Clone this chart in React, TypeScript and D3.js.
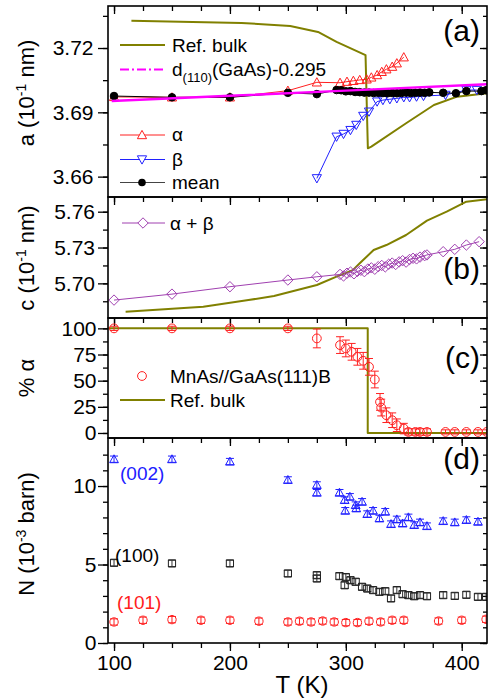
import { useRef, useEffect } from 'react'
import * as d3 from 'd3'

// ---- panel (a): lattice parameter a
const bulkAT = [115, 210, 252, 276, 292, 317, 319, 322, 352, 376, 396, 422]
const bulkA = [3.7327, 3.7317, 3.7303, 3.7275, 3.7229, 3.7167, 3.6732, 3.674, 3.6849, 3.6934, 3.6973, 3.6989]
const d110T = [98, 200, 300, 422]
const d110A = [3.6953, 3.6977, 3.7001, 3.7031]
const alphaT = [100, 150, 200, 250, 275, 295, 301, 306.5, 312, 318, 322, 327, 331, 335, 340, 344, 350]
const alphaA = [3.6972, 3.697, 3.697, 3.7001, 3.704, 3.7038, 3.7043, 3.7047, 3.7051, 3.7054, 3.7063, 3.7074, 3.7089, 3.7101, 3.7113, 3.7129, 3.7157]
const betaT = [275, 292, 298, 304, 309, 315, 320, 327, 332, 338, 344, 350, 355, 361, 367, 386, 404, 413]
const betaA = [3.6592, 3.6786, 3.6799, 3.6817, 3.6841, 3.6883, 3.6903, 3.695, 3.6957, 3.6961, 3.6965, 3.697, 3.697, 3.6973, 3.6976, 3.6981, 3.7004, 3.7004]
const meanT = [100, 150, 200, 250, 275, 292, 296, 300, 304, 308, 312, 316, 320, 324, 328, 332, 336, 340, 344, 348, 352, 356, 360, 364, 368, 372, 384, 395, 404, 417, 421]
const meanA = [3.6976, 3.697, 3.697, 3.6991, 3.6985, 3.7004, 3.7003, 3.6998, 3.6999, 3.6995, 3.6994, 3.6992, 3.6992, 3.699, 3.6991, 3.699, 3.6989, 3.699, 3.6989, 3.699, 3.6992, 3.699, 3.6991, 3.6992, 3.6991, 3.6993, 3.6991, 3.6989, 3.6999, 3.6999, 3.7003]

// ---- panel (b): lattice parameter c
const bulkCT = [110, 177, 216, 238, 275, 292, 306, 312, 324, 335, 352, 370, 387, 404, 422]
const bulkC = [5.6762, 5.6804, 5.686, 5.6894, 5.6986, 5.7056, 5.7111, 5.7168, 5.7279, 5.7321, 5.7405, 5.7525, 5.76, 5.7684, 5.7704]
const abT = [100, 150, 200, 250, 275, 295, 298, 301, 304, 307, 310, 313, 316, 319, 322, 325, 328, 331, 334, 337, 340, 343, 346, 349, 352, 355, 358, 361, 364, 368, 370, 384, 394, 404, 415]
const abC = [5.686, 5.691, 5.6972, 5.7028, 5.7055, 5.7075, 5.7062, 5.7085, 5.7095, 5.708, 5.71, 5.711, 5.7098, 5.712, 5.713, 5.7118, 5.714, 5.715, 5.7138, 5.716, 5.717, 5.7158, 5.718, 5.719, 5.7178, 5.72, 5.721, 5.7205, 5.722, 5.7232, 5.7238, 5.7265, 5.7285, 5.7321, 5.7349]

// ---- panel (c): alpha fraction
const pctT = [100, 150, 200, 250, 275, 295, 300, 305, 310, 315, 320, 325, 329.5, 330.5, 335, 340, 344, 350, 354, 360, 364, 370, 386, 394, 404, 414, 421.5]
const pctV = [100, 100, 100, 100, 90.4, 84, 80.8, 77.6, 72.8, 69, 63.2, 51.1, 29.7, 24.3, 17, 12.2, 7.4, 4.2, 1, 1, 1, 1, 1, 1, 1, 1, 1]
const pctE = [2, 2, 2, 2, 9, 8, 8, 8, 8, 8, 8, 8, 8, 8, 7, 7, 6, 5, 3, 3, 3, 3, 2, 2, 2, 2, 2]
const bulkPT = [95, 318.9, 318.9, 422]
const bulkP = [100, 100, 0, 0]

// ---- panel (d): integrated intensities
const n002T = [100, 150, 200, 250, 275, 275, 294.5, 299, 299.5, 303.5, 308.5, 309, 314, 318.5, 323.5, 329, 334, 339, 344, 349, 354, 359, 364, 370, 384, 394, 404, 414]
const n002 = [11.71, 11.71, 11.56, 10.39, 10.07, 9.58, 9.58, 9.11, 8.43, 9.32, 8.79, 8.58, 9.0, 8.22, 8.43, 7.94, 8.37, 7.58, 7.88, 7.62, 8.01, 7.52, 7.69, 7.45, 7.77, 7.69, 7.84, 7.73]
const n100T = [100, 150, 200, 250, 275, 275, 294.5, 299, 300, 304, 308.5, 314, 318.5, 323.5, 329, 334, 339, 344, 349, 354, 359, 364, 370, 384, 394, 404, 414, 421]
const n100 = [5.11, 5.07, 5.07, 4.43, 4.32, 4.11, 4.26, 3.68, 4.2, 4.0, 3.9, 3.58, 3.47, 3.37, 3.26, 3.3, 2.84, 3.37, 3.11, 3.05, 2.98, 3.05, 2.98, 3.05, 3.0, 3.07, 2.94, 2.94]
const n101T = [100, 125, 150, 175, 200, 225, 250, 260, 270, 280, 290, 300, 310, 320, 330, 340, 350, 380, 400, 421]
const n101 = [1.34, 1.45, 1.49, 1.45, 1.45, 1.39, 1.34, 1.39, 1.34, 1.4, 1.34, 1.3, 1.3, 1.39, 1.34, 1.45, 1.45, 1.4, 1.45, 1.51]
const nErr = 0.2

// ---- ticks
const xMajor = [100, 200, 300, 400]
const xMinor = [100, 125, 150, 175, 200, 225, 250, 275, 300, 325, 350, 375, 400]
const aMajor = [3.66, 3.69, 3.72]
const aMinor = [3.66, 3.675, 3.69, 3.705, 3.72, 3.735]
const cMajor = [5.7, 5.73, 5.76]
const cMinor = [5.685, 5.7, 5.715, 5.73, 5.745, 5.76]
const pMajor = [0, 25, 50, 75, 100]
const pMinor = [0, 12.5, 25, 37.5, 50, 62.5, 75, 87.5, 100]
const nMajor = [0, 5, 10]
const nMinor = [0, 1, 2, 3, 4, 5, 6, 7, 8, 9, 10, 11, 12]

const OLIVE = '#808000'
const RED = '#ff2020'
const BLUE = '#2020ff'
const PURPLE = '#a040b0'
const MAGENTA = '#ff00ff'
const FONT = '"Liberation Sans", Arial, sans-serif'

const L = 108
const R = 487

function shape(kind: string, cx: number, cy: number, s: number) {
  if (kind === 'up') return `M${cx},${cy - s}L${cx + s},${cy + s * 0.8}L${cx - s},${cy + s * 0.8}Z`
  if (kind === 'down') return `M${cx},${cy + s}L${cx + s},${cy - s * 0.8}L${cx - s},${cy - s * 0.8}Z`
  if (kind === 'diamond') return `M${cx},${cy - s}L${cx + s},${cy}L${cx},${cy + s}L${cx - s},${cy}Z`
  return `M${cx - s},${cy - s}h${2 * s}v${2 * s}h${-2 * s}Z`
}

export default function App() {
  const svgRef = useRef<SVGSVGElement>(null)

  useEffect(() => {
    if (!svgRef.current) return
    const svg = d3.select(svgRef.current)
    svg.selectAll('*').remove()

    const x = d3.scaleLinear().domain([94.8, 421.8]).range([L, R])

    const panels = [
      { id: 'a', top: 6, bottom: 197, dom: [3.6505, 3.7396], major: aMajor, minor: aMinor, fmt: d3.format('.2f'), lx: 93.5 },
      { id: 'b', top: 197, bottom: 318, dom: [5.671, 5.7723], major: cMajor, minor: cMinor, fmt: d3.format('.2f'), lx: 95 },
      { id: 'c', top: 318, bottom: 438, dom: [-4.8, 109.9], major: pMajor, minor: pMinor, fmt: d3.format('d'), lx: 96.5 },
      { id: 'd', top: 438, bottom: 643, dom: [0, 13.06], major: nMajor, minor: nMinor, fmt: d3.format('d'), lx: 96.5 },
    ]

    const ys: Record<string, d3.ScaleLinear<number, number>> = {}
    const layers: Record<string, any> = {}

    const styleAxis = (g: any) => {
      g.select('.domain').remove()
      g.selectAll('line').attr('stroke', '#000').attr('stroke-width', 1.3)
      g.selectAll('text').attr('fill', '#000').attr('font-family', FONT).attr('font-size', 21)
    }

    panels.forEach((p) => {
      const y = d3.scaleLinear().domain(p.dom).range([p.bottom, p.top])
      ys[p.id] = y

      svg.append('clipPath').attr('id', 'clip-' + p.id)
        .append('rect').attr('x', L).attr('y', p.top).attr('width', R - L).attr('height', p.bottom - p.top)

      // left: outward ticks + labels
      svg.append('g').attr('transform', `translate(${L},0)`)
        .call(d3.axisLeft(y).tickValues(p.minor).tickSize(5).tickFormat(() => ''))
        .call(styleAxis)
      svg.append('g').attr('transform', `translate(${L},0)`)
        .call(d3.axisLeft(y).tickValues(p.major).tickSize(10).tickFormat(() => ''))
        .call(styleAxis)
      svg.append('g').attr('transform', `translate(${L},0)`)
        .call(d3.axisLeft(y).tickValues(p.major).tickSize(0).tickPadding(L - p.lx).tickFormat((d: any) => p.fmt(d)))
        .call(styleAxis)

      // right: inward ticks
      svg.append('g').attr('transform', `translate(${R},0)`)
        .call(d3.axisLeft(y).tickValues(p.minor).tickSize(4).tickFormat(() => ''))
        .call(styleAxis)
      svg.append('g').attr('transform', `translate(${R},0)`)
        .call(d3.axisLeft(y).tickValues(p.major).tickSize(7).tickFormat(() => ''))
        .call(styleAxis)

      // top: inward ticks
      svg.append('g').attr('transform', `translate(0,${p.top})`)
        .call(d3.axisBottom(x).tickValues(xMinor).tickSize(5).tickFormat(() => ''))
        .call(styleAxis)
      svg.append('g').attr('transform', `translate(0,${p.top})`)
        .call(d3.axisBottom(x).tickValues(xMajor).tickSize(8).tickFormat(() => ''))
        .call(styleAxis)

      layers[p.id] = svg.append('g').attr('clip-path', `url(#clip-${p.id})`)
    })

    // bottom axis of panel (d)
    svg.append('g').attr('transform', `translate(0,643)`)
      .call(d3.axisBottom(x).tickValues(xMinor).tickSize(5).tickFormat(() => ''))
      .call(styleAxis)
    svg.append('g').attr('transform', `translate(0,643)`)
      .call(d3.axisBottom(x).tickValues(xMajor).tickSize(8).tickPadding(4).tickFormat(d3.format('d')))
      .call(styleAxis)

    const line = (g: any, ts: number[], vs: number[], y: any, color: string, w: number, dash?: string) => {
      const gen = d3.line<number>().x((_, i) => x(ts[i])).y((v) => y(v))
      g.append('path').attr('d', gen(vs)).attr('fill', 'none').attr('stroke', color)
        .attr('stroke-width', w).attr('stroke-dasharray', dash || null).attr('stroke-linejoin', 'round')
    }
    const marks = (g: any, ts: number[], vs: number[], y: any, kind: string, color: string, s: number) => {
      vs.forEach((v, i) => {
        if (kind === 'circle' || kind === 'dot') {
          g.append('circle').attr('cx', x(ts[i])).attr('cy', y(v)).attr('r', s)
            .attr('fill', kind === 'dot' ? color : 'none').attr('stroke', color).attr('stroke-width', 1)
        } else {
          g.append('path').attr('d', shape(kind, x(ts[i]), y(v), s))
            .attr('fill', 'none').attr('stroke', color).attr('stroke-width', 1)
        }
      })
    }
    const errs = (g: any, ts: number[], vs: number[], es: number[], y: any, color: string) => {
      vs.forEach((v, i) => {
        const cx = x(ts[i])
        const y0 = y(v - es[i]), y1 = y(v + es[i])
        g.append('path').attr('d', `M${cx},${y0}V${y1}M${cx - 4},${y0}h8M${cx - 4},${y1}h8`)
          .attr('fill', 'none').attr('stroke', color).attr('stroke-width', 1)
      })
    }

    // panel (a)
    const ga = layers.a, ya = ys.a
    line(ga, bulkAT, bulkA, ya, OLIVE, 2)
    line(ga, alphaT, alphaA, ya, RED, 1)
    line(ga, betaT, betaA, ya, BLUE, 1)
    marks(ga, alphaT, alphaA, ya, 'up', RED, 4.6)
    marks(ga, betaT, betaA, ya, 'down', BLUE, 4.6)
    line(ga, meanT, meanA, ya, '#000', 1)
    marks(ga, meanT, meanA, ya, 'dot', '#000', 3.8)
    line(ga, d110T, d110A, ya, MAGENTA, 2.4)

    // panel (b)
    const gb = layers.b, yb = ys.b
    line(gb, bulkCT, bulkC, yb, OLIVE, 2)
    line(gb, abT, abC, yb, PURPLE, 1)
    marks(gb, abT, abC, yb, 'diamond', PURPLE, 5.2)

    // panel (c)
    const gc = layers.c, yc = ys.c
    line(gc, bulkPT, bulkP, yc, OLIVE, 2)
    errs(gc, pctT, pctV, pctE, yc, RED)
    marks(gc, pctT, pctV, yc, 'circle', RED, 4.4)

    // panel (d)
    const gd = layers.d, yd = ys.d
    errs(gd, n002T, n002, n002.map(() => nErr), yd, BLUE)
    marks(gd, n002T, n002, yd, 'up', BLUE, 4.4)
    errs(gd, n100T, n100, n100.map(() => nErr), yd, '#333')
    marks(gd, n100T, n100, yd, 'square', '#222', 3.6)
    errs(gd, n101T, n101, n101.map(() => nErr), yd, RED)
    marks(gd, n101T, n101, yd, 'circle', RED, 4.2)

    // frames
    panels.forEach((p) => {
      svg.append('rect').attr('x', L).attr('y', p.top).attr('width', R - L).attr('height', p.bottom - p.top)
        .attr('fill', 'none').attr('stroke', '#000').attr('stroke-width', 1.6)
    })

    const txt = (s: string, tx: number, ty: number, size: number, color = '#000', anchor = 'start') =>
      svg.append('text').attr('x', tx).attr('y', ty).attr('font-family', FONT).attr('font-size', size)
        .attr('fill', color).attr('text-anchor', anchor).text(s)

    // panel letters
    txt('(a)', 480, 41, 30, '#000', 'end')
    txt('(b)', 480, 279, 30, '#000', 'end')
    txt('(c)', 480, 368, 30, '#000', 'end')
    txt('(d)', 480, 469, 30, '#000', 'end')

    // legends (a)
    const leg = svg.append('g')
    const legLine = (y0: number, color: string, w: number, dash?: string) =>
      leg.append('line').attr('x1', 120).attr('x2', 165).attr('y1', y0).attr('y2', y0)
        .attr('stroke', color).attr('stroke-width', w).attr('stroke-dasharray', dash || null)
    legLine(45, OLIVE, 2)
    txt('Ref. bulk', 172, 52, 19)
    legLine(69.5, MAGENTA, 2.2, '9,3,2,3')
    const dt = svg.append('text').attr('x', 172).attr('y', 76).attr('font-family', FONT).attr('font-size', 19)
    dt.append('tspan').text('d')
    dt.append('tspan').attr('font-size', 13).attr('dy', 6).text('(110)')
    dt.append('tspan').attr('dy', -6).text('(GaAs)-0.295')

    legLine(135, RED, 1)
    leg.append('path').attr('d', shape('up', 142, 135, 4.6)).attr('fill', 'white').attr('stroke', RED)
    txt('α', 172, 141, 19)
    legLine(159.5, BLUE, 1)
    leg.append('path').attr('d', shape('down', 142, 159.5, 4.6)).attr('fill', 'white').attr('stroke', BLUE)
    txt('β', 172, 166, 19)
    legLine(182.5, '#444', 1)
    leg.append('circle').attr('cx', 142).attr('cy', 182.5).attr('r', 3.8).attr('fill', '#000')
    txt('mean', 172, 189, 19)

    // legend (b)
    leg.append('line').attr('x1', 122).attr('x2', 165).attr('y1', 223).attr('y2', 223).attr('stroke', PURPLE).attr('stroke-width', 1)
    leg.append('path').attr('d', shape('diamond', 143, 223, 5.2)).attr('fill', 'white').attr('stroke', PURPLE)
    txt('α + β', 170, 229.5, 19)

    // legend (c)
    leg.append('circle').attr('cx', 142).attr('cy', 376).attr('r', 4.4).attr('fill', 'none').attr('stroke', RED)
    txt('MnAs//GaAs(111)B', 170, 383, 19)
    leg.append('line').attr('x1', 120).attr('x2', 165).attr('y1', 400).attr('y2', 400).attr('stroke', OLIVE).attr('stroke-width', 2)
    txt('Ref. bulk', 170, 407, 19)

    // reflection labels (d)
    txt('(002)', 120, 480, 19, BLUE)
    txt('(100)', 115, 562, 19, '#000')
    txt('(101)', 117, 609, 19, RED)

    // axis titles
    const ylab = (cy: number, parts: [string, boolean][]) => {
      const t = svg.append('text').attr('transform', `translate(34,${cy}) rotate(-90)`)
        .attr('text-anchor', 'middle').attr('font-family', FONT).attr('font-size', 22).attr('fill', '#000')
      parts.forEach(([s, sup], i) => {
        const ts = t.append('tspan').text(s)
        if (sup) ts.attr('font-size', 14).attr('dy', -8)
        else if (i > 0 && parts[i - 1][1]) ts.attr('dy', 8)
      })
    }
    ylab(93, [['a (10', false], ['-1', true], [' nm)', false]])
    ylab(258, [['c (10', false], ['-1', true], [' nm)', false]])
    ylab(378, [['% α', false]])
    ylab(534, [['N (10', false], ['-3', true], [' barn)', false]])
    txt('T (K)', 302, 693, 24, '#000', 'middle')
  }, [])

  return (
    <svg ref={svgRef} width={488} height={698}
      style={{ position: 'absolute', left: 0, top: 0, background: '#fff' }} />
  )
}
